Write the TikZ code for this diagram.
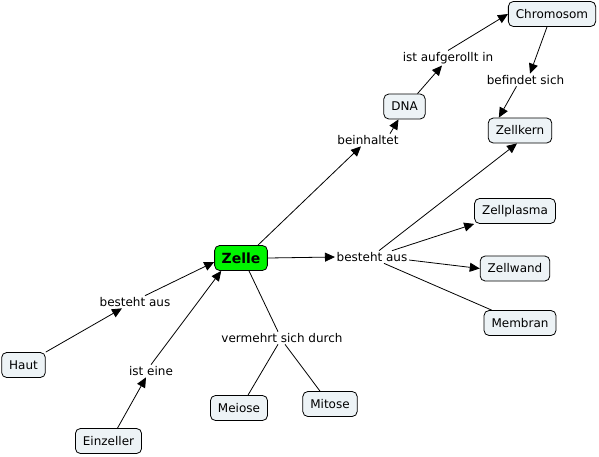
\documentclass[tikz,border=0pt]{standalone}
\usepackage{fontspec}
\setmainfont{DejaVu Sans}
\usetikzlibrary{arrows.meta}
\definecolor{boxfill}{RGB}{237,243,246}
\definecolor{zellgreen}{RGB}{0,245,0}
\begin{document}
\begin{tikzpicture}[x=1pt,y=-1pt,
  concept/.style={draw=black, fill=boxfill, rounded corners=5pt, inner xsep=7.5pt, inner ysep=0pt,
    minimum height=25pt, font=\fontsize{12}{14}\selectfont, line width=0.8pt},
  lbl/.style={inner sep=1.5pt, font=\fontsize{12}{14}\selectfont},
  link/.style={line width=0.8pt},
  arr/.style={link, -{Triangle[length=10pt,width=9pt]}},
]
\useasboundingbox (0,0) rectangle (599,456);
% concepts
\node[concept, fill=zellgreen, font=\fontsize{14}{16}\bfseries, inner xsep=7pt] (zelle) at (241,258) {Zelle};
\node[concept] (haut) at (23.5,365) {Haut};
\node[concept] (einzeller) at (108.5,441) {Einzeller};
\node[concept] (meiose) at (239,408) {Meiose};
\node[concept] (mitose) at (330,404) {Mitose};
\node[concept] (membran) at (520,323) {Membran};
\node[concept] (zellwand) at (515,268.5) {Zellwand};
\node[concept] (zellplasma) at (515,211) {Zellplasma};
\node[concept] (zellkern) at (520,130.5) {Zellkern};
\node[concept] (chromosom) at (552,14) {Chromosom};
\node[concept] (dna) at (404.5,106.5) {DNA};
% linking phrases
\node[lbl] (bestL) at (135,302) {besteht aus};
\node[lbl] (isteine) at (151,371) {ist eine};
\node[lbl] (vermehrt) at (282,338) {vermehrt sich durch};
\node[lbl] (bestR) at (372,257) {besteht aus};
\node[lbl] (beinh) at (368,140) {beinhaltet};
\node[lbl] (aufg) at (448,58) {ist aufgerollt in};
\node[lbl] (befindet) at (525.5,80) {befindet sich};
% connectors
\draw[arr] (haut.north east) -- ([xshift=-13pt]bestL.south);
\draw[arr] ([xshift=10pt]bestL.north) -- ([yshift=-4pt]zelle.west);
\draw[arr] ([xshift=9pt]einzeller.north) -- ([xshift=-5pt]isteine.south);
\draw[arr] (isteine.north) -- ([xshift=7pt]zelle.south west);
\draw[link] ([xshift=8pt]zelle.south) -- ([xshift=-4pt]vermehrt.north);
\draw[link] ([xshift=-4pt]vermehrt.south) -- ([xshift=9pt]meiose.north);
\draw[link] ([xshift=3pt]vermehrt.south) -- ([xshift=-10pt]mitose.north);
\draw[arr] (zelle.east) -- (bestR.west);
\draw[arr] ([xshift=7pt]bestR.north) -- ([xshift=-3pt]zellkern.south);
\draw[arr] ([xshift=20pt]bestR.north) -- (zellplasma.south west);
\draw[arr] ([yshift=-3pt]bestR.east) -- (zellwand.west);
\draw[link] ([xshift=12pt]bestR.south) -- ([xshift=8pt]membran.north west);
\draw[arr] ([xshift=17pt]zelle.north) -- ([xshift=-7pt]beinh.south);
\draw[arr] ([xshift=22pt]beinh.north) -- ([xshift=-6pt]dna.south);
\draw[arr] ([xshift=13pt]dna.north) -- ([xshift=-6pt]aufg.south);
\draw[arr] (aufg.north) -- (chromosom.west);
\draw[arr] ([xshift=-5pt]chromosom.south) -- ([xshift=4.5pt]befindet.north);
\draw[arr] ([xshift=-9pt]befindet.south) -- ([xshift=11pt]zellkern.north west);
\end{tikzpicture}
\end{document}
